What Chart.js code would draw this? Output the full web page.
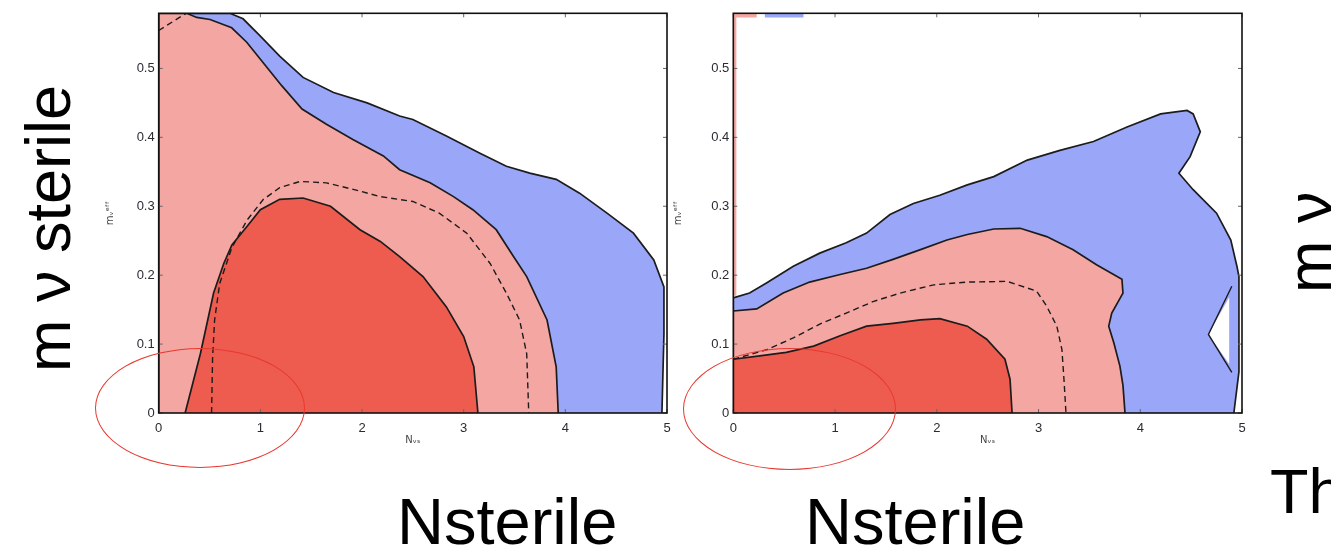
<!DOCTYPE html>
<html>
<head>
<meta charset="utf-8">
<script src="https://cdn.jsdelivr.net/npm/chart.js@4.4.1/dist/chart.umd.min.js"></script>
<style>
    body { margin: 0; background: #fff; width: 1331px; height: 547px; overflow: hidden; position: relative; font-family: 'Liberation Sans', Arial, sans-serif; }
    canvas { position: absolute; top: 0; }
    #leftChart { left: 100px; }
    #rightChart { left: 660px; }
    .big { position: absolute; font-size: 63px; line-height: 63px; white-space: nowrap; color: #000; }
    .wide { font-size: 65px; line-height: 65px; }
    .up { transform-origin: 0 0; transform: rotate(-90deg); }
    .ring { position: absolute; box-sizing: border-box; border: 1.5px solid #e8392f; border-radius: 50%; }
</style>
</head>
<body>
<canvas id="leftChart" width="590" height="470"></canvas>
<canvas id="rightChart" width="600" height="470"></canvas>

<div class="big up" style="left:17px; top:372px;">m ν sterile</div>
<div class="big up" style="left:1278px; top:293px;">m ν</div>
<div class="big wide" style="left:397px; top:489px;">Nsterile</div>
<div class="big wide" style="left:805px; top:489px;">Nsterile</div>
<div class="big" style="left:1270px; top:460px;">Th</div>

<div class="ring" style="left:95px; top:348px; width:210px; height:120px;"></div>
<div class="ring" style="left:683px; top:348px; width:213px; height:122px;"></div>

<script>
// axis ticks
const xTicks = [0, 1, 2, 3, 4, 5];
const yTicks = [0, 0.1, 0.2, 0.3, 0.4, 0.5];
const yMax = 0.58;

// left panel contours [N, m]
const leftBlue = [[0, 0], [0, 0.58], [0.70, 0.58], [0.83, 0.572], [1.00, 0.547], [1.19, 0.518], [1.42, 0.487], [1.72, 0.465], [2.05, 0.450], [2.37, 0.431], [2.50, 0.426], [2.83, 0.402], [3.16, 0.377], [3.42, 0.358], [3.65, 0.348], [3.91, 0.339], [4.14, 0.319], [4.41, 0.290], [4.67, 0.261], [4.87, 0.222], [4.97, 0.183], [4.97, 0.115], [4.95, 0]];
const leftPink = [[0, 0], [0, 0.58], [0.275, 0.58], [0.374, 0.574], [0.505, 0.571], [0.718, 0.559], [0.866, 0.538], [1.03, 0.508], [1.21, 0.475], [1.41, 0.441], [1.65, 0.419], [1.91, 0.397], [2.21, 0.373], [2.37, 0.353], [2.67, 0.334], [2.90, 0.314], [3.09, 0.295], [3.32, 0.266], [3.49, 0.227], [3.62, 0.198], [3.82, 0.135], [3.91, 0.067], [3.93, 0]];
const leftRed = [[0.26, 0], [0.41, 0.086], [0.54, 0.174], [0.64, 0.217], [0.72, 0.244], [0.87, 0.271], [1.00, 0.295], [1.19, 0.310], [1.42, 0.312], [1.69, 0.300], [1.98, 0.266], [2.18, 0.249], [2.37, 0.227], [2.60, 0.198], [2.83, 0.154], [3.00, 0.111], [3.10, 0.067], [3.14, 0]];
const leftDashed = [[0.52, 0], [0.53, 0.08], [0.55, 0.135], [0.60, 0.188], [0.72, 0.240], [0.87, 0.280], [1.03, 0.31], [1.19, 0.327], [1.39, 0.336], [1.65, 0.334], [1.98, 0.322], [2.18, 0.314], [2.50, 0.307], [2.76, 0.290], [3.03, 0.261], [3.26, 0.217], [3.42, 0.174], [3.55, 0.135], [3.62, 0.086], [3.64, 0]];
const leftDashedTop = [[0, 0.555], [0.27, 0.58]];

// right panel contours [N, m]
const rightBlue = [[0, 0], [0, 0.167], [0.16, 0.174], [0.33, 0.189], [0.59, 0.213], [0.85, 0.232], [1.11, 0.247], [1.31, 0.261], [1.54, 0.288], [1.77, 0.304], [2.03, 0.316], [2.30, 0.331], [2.56, 0.343], [2.89, 0.367], [3.21, 0.381], [3.54, 0.394], [3.87, 0.415], [4.20, 0.434], [4.46, 0.439], [4.52, 0.434], [4.59, 0.408], [4.49, 0.372], [4.38, 0.348], [4.52, 0.324], [4.75, 0.290], [4.89, 0.251], [4.95, 0.213], [4.97, 0.198], [4.97, 0.06], [4.92, 0]];
const rightPink = [[0, 0], [0, 0.148], [0.23, 0.151], [0.49, 0.174], [0.75, 0.190], [1.05, 0.201], [1.31, 0.210], [1.57, 0.223], [1.84, 0.237], [2.10, 0.251], [2.30, 0.259], [2.56, 0.267], [2.82, 0.268], [3.08, 0.256], [3.34, 0.237], [3.57, 0.215], [3.82, 0.194], [3.83, 0.174], [3.72, 0.145], [3.69, 0.126], [3.74, 0.102], [3.80, 0.068], [3.83, 0.040], [3.85, 0]];
const rightRed = [[0, 0], [0, 0.078], [0.26, 0.083], [0.52, 0.088], [0.79, 0.097], [1.05, 0.112], [1.31, 0.126], [1.57, 0.130], [1.84, 0.135], [2.03, 0.137], [2.30, 0.126], [2.49, 0.107], [2.67, 0.078], [2.72, 0.049], [2.74, 0]];
const rightDashed = [[0, 0.078], [0.33, 0.092], [0.59, 0.109], [0.85, 0.129], [1.11, 0.145], [1.38, 0.162], [1.64, 0.174], [1.97, 0.186], [2.30, 0.190], [2.69, 0.191], [2.98, 0.177], [3.08, 0.155], [3.18, 0.126], [3.23, 0.092], [3.25, 0.049], [3.27, 0]];
const rightNotch = [[4.874, 0.168], [4.67, 0.114], [4.874, 0.071]];
const rightNotchEdge = [[4.90, 0.184], [4.67, 0.114], [4.90, 0.059]];
const rightPinkSliver = [[0, 0.58], [0.23, 0.58], [0.23, 0.574], [0.03, 0.574], [0.03, 0.17], [0, 0.17]];
const rightBlueSliver = [[0.31, 0.58], [0.69, 0.58], [0.69, 0.574], [0.31, 0.574]];

const BLUE = 'rgb(154, 166, 248)';
const PINK = 'rgb(243, 166, 162)';
const RED = 'rgb(238, 92, 79)';
const LINE = '#1c1c1c';

const pts = arr => arr.map(([x, y]) => ({ x, y }));

// filled contour, lower order is drawn on top
function area(arr, color, order, stroke = true) {
    return {
        data: pts(arr), order, showLine: true, pointRadius: 0, tension: 0,
        fill: 'shape', backgroundColor: color,
        borderColor: stroke ? LINE : 'rgba(0,0,0,0)', borderWidth: stroke ? 1.7 : 0
    };
}

function dashed(arr, order) {
    return {
        data: pts(arr), order, showLine: true, pointRadius: 0, tension: 0,
        fill: false, borderColor: LINE, borderWidth: 1.4, borderDash: [6, 4]
    };
}

// box + inner tick marks on all four sides
const framePlugin = {
    id: 'frame',
    afterDatasetsDraw(chart) {
        const { ctx, chartArea: a, scales: { x, y } } = chart;
        ctx.save();
        ctx.strokeStyle = '#666';
        ctx.lineWidth = 1;
        xTicks.forEach(v => {
            const px = x.getPixelForValue(v);
            ctx.beginPath();
            ctx.moveTo(px, a.bottom); ctx.lineTo(px, a.bottom - 4);
            ctx.moveTo(px, a.top); ctx.lineTo(px, a.top + 4);
            ctx.stroke();
        });
        yTicks.forEach(v => {
            const py = y.getPixelForValue(v);
            ctx.beginPath();
            ctx.moveTo(a.left, py); ctx.lineTo(a.left + 4, py);
            ctx.moveTo(a.right, py); ctx.lineTo(a.right - 4, py);
            ctx.stroke();
        });
        ctx.strokeStyle = '#111';
        ctx.lineWidth = 1.6;
        ctx.strokeRect(a.left, a.top, a.right - a.left, a.bottom - a.top);
        ctx.restore();
    }
};

function makeChart(id, datasets, padRight, yWidth, yTitlePad) {
    const tickFont = { family: "'Liberation Sans', Arial, sans-serif", size: 13 };
    const titleFont = { family: "'DejaVu Sans', sans-serif", size: 10 };
    return new Chart(document.getElementById(id), {
        type: 'scatter',
        data: { datasets },
        options: {
            responsive: false,
            animation: false,
            layout: { padding: { top: 13.3, right: padRight, bottom: 0, left: 0 } },
            plugins: { legend: { display: false }, tooltip: { enabled: false } },
            scales: {
                x: {
                    type: 'linear', min: 0, max: 5,
                    grid: { display: false, drawTicks: false }, border: { display: false },
                    afterBuildTicks: s => { s.ticks = xTicks.map(v => ({ value: v })); },
                    afterFit: s => { s.height = 57; },
                    ticks: { padding: 8, color: '#2b2b33', font: tickFont, maxRotation: 0, autoSkip: false, callback: v => String(v) },
                    title: { display: true, text: 'Nᵥₛ', color: '#444', font: titleFont, padding: { top: 0, bottom: 24 } }
                },
                y: {
                    type: 'linear', min: 0, max: yMax,
                    grid: { display: false, drawTicks: false }, border: { display: false },
                    afterBuildTicks: s => { s.ticks = yTicks.map(v => ({ value: v })); },
                    afterFit: s => { s.width = yWidth; },
                    ticks: { padding: 4, color: '#2b2b33', font: tickFont, autoSkip: false, callback: v => String(v) },
                    title: { display: true, text: 'mᵥᵉᶠᶠ', color: '#444', font: titleFont, padding: { top: yTitlePad, bottom: 0 } }
                }
            }
        },
        plugins: [framePlugin]
    });
}

document.addEventListener('DOMContentLoaded', () => {
    makeChart('leftChart', [
        dashed(leftDashed, 0),
        dashed(leftDashedTop, 0),
        area(leftRed, RED, 1),
        area(leftPink, PINK, 2),
        area(leftBlue, BLUE, 3)
    ], 23, 58.7, 4);

    makeChart('rightChart', [
        { data: pts(rightNotchEdge), order: 0, showLine: true, pointRadius: 0, tension: 0, fill: false, borderColor: LINE, borderWidth: 1.4 },
        area(rightNotch, '#ffffff', 1, false),
        dashed(rightDashed, 2),
        area(rightRed, RED, 3),
        area(rightPink, PINK, 4),
        area(rightPinkSliver, PINK, 4, false),
        area(rightBlue, BLUE, 5),
        area(rightBlueSliver, BLUE, 5, false)
    ], 18, 73.3, 12);
});
</script>
</body>
</html>
